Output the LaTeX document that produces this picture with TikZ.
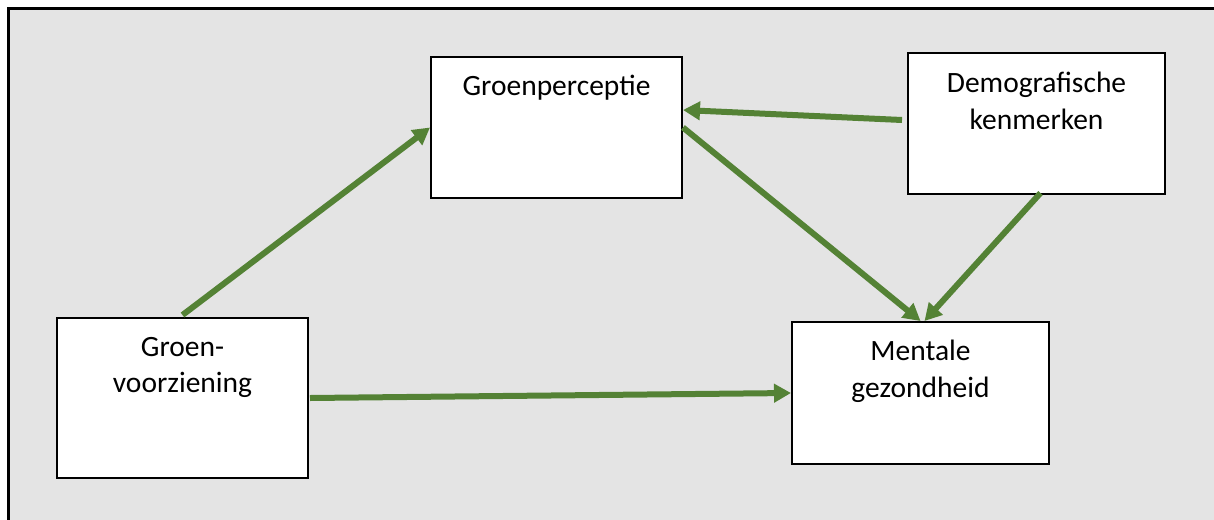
\documentclass[tikz,border=0pt]{standalone}
\usepackage{fontspec}
\setmainfont{Carlito}
\usetikzlibrary{arrows.meta}
\definecolor{bg}{HTML}{E4E4E4}
\definecolor{grn}{HTML}{548235}
\tikzset{
  box/.style={draw=black, line width=2pt, fill=white, rectangle, inner sep=0pt},
  lbl/.style={anchor=base, inner sep=0pt, font=\fontsize{29.5pt}{37pt}\selectfont},
  conn/.style={draw=grn, line width=6pt, -{Triangle[length=17pt,width=18pt]}}
}
\begin{document}
\begin{tikzpicture}[x=1pt,y=-1pt]
\useasboundingbox (0,0) rectangle (1214,519);
\draw[fill=bg, draw=black, line width=2.5pt] (8.5,8.5) rectangle (1240,540);
% boxes
\node[box, minimum width=251pt, minimum height=141pt] (gp) at (556.5,127.5) {};
\node[box, minimum width=257pt, minimum height=141pt] (dk) at (1036.5,123.5) {};
\node[box, minimum width=251pt, minimum height=160pt] (gv) at (182.5,398) {};
\node[box, minimum width=257pt, minimum height=142pt] (mg) at (920.5,393) {};
% labels
\node[lbl] (gpt) at (556.5,95) {Groenperceptie};
\node[lbl] (dkt1) at (1036.5,92) {Demografische};
\node[lbl] (dkt2) at (1036.5,129) {kenmerken};
\node[lbl] (gvt1) at (182.5,356) {Groen-};
\node[lbl] (gvt2) at (182.5,392) {voorziening};
\node[lbl] (mgt1) at (920.5,360) {Mentale};
\node[lbl] (mgt2) at (920.5,397) {gezondheid};
% connectors
\draw[conn] ([yshift=2pt]gv.north) -- (gp.west);
\draw[conn] ([xshift=-5pt,yshift=3.5pt]dk.west) -- ([yshift=17.5pt]gp.east);
\draw[conn] (gp.east) -- (mg.north);
\draw[conn] ([xshift=4pt,yshift=2pt]dk.south) -- ([xshift=4pt]mg.north);
\draw[conn] ([xshift=1pt]gv.east) -- (mg.west);
\end{tikzpicture}
\end{document}
